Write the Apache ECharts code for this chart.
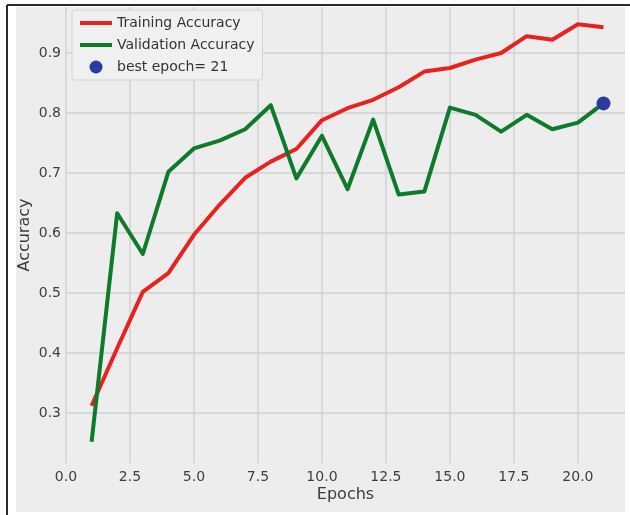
<!DOCTYPE html>
<html>
<head>
<meta charset="utf-8">
<script src="https://cdn.jsdelivr.net/npm/echarts@6/dist/echarts.min.js"></script>
<style>
  html, body { margin: 0; padding: 0; background: #ffffff; }
  #chart { width: 630px; height: 515px; }
</style>
</head>
<body>
<div id="chart"></div>
<script>
// Per-epoch accuracy recorded during training
const epochs = [1, 2, 3, 4, 5, 6, 7, 8, 9, 10, 11, 12, 13, 14, 15, 16, 17, 18, 19, 20, 21];
const trainingAccuracy = [0.312, 0.408, 0.502, 0.533, 0.597, 0.647, 0.692, 0.719, 0.740, 0.788, 0.808,
                          0.822, 0.843, 0.869, 0.875, 0.889, 0.900, 0.928, 0.922, 0.948, 0.943];
const validationAccuracy = [0.252, 0.633, 0.565, 0.702, 0.741, 0.754, 0.773, 0.813, 0.691, 0.762, 0.673,
                            0.789, 0.664, 0.669, 0.809, 0.797, 0.769, 0.797, 0.773, 0.784, 0.816];
const bestEpoch = 21;
const bestLabel = 'best epoch= ' + bestEpoch;

const pair = (xs, ys) => xs.map((x, i) => [x, ys[i]]);
const FONT = 'DejaVu Sans';

const chart = echarts.init(document.getElementById('chart'), null, { renderer: 'canvas' });

chart.setOption({
  backgroundColor: '#ffffff',
  animation: false,
  graphic: [
    // figure panel
    { type: 'rect', z: -10, silent: true, shape: { x: 16, y: 7, width: 609, height: 505 }, style: { fill: '#ededed' } },
    // outer frame lines
    { type: 'line', z: 10, silent: true, shape: { x1: 7, y1: 5, x2: 630, y2: 5 }, style: { stroke: '#2a2a2a', lineWidth: 2 } },
    { type: 'line', z: 10, silent: true, shape: { x1: 7, y1: 5, x2: 7, y2: 515 }, style: { stroke: '#2a2a2a', lineWidth: 2 } }
  ],
  grid: { left: 66, right: 5, top: 7, bottom: 52, show: true, backgroundColor: '#ededed', borderWidth: 0 },
  legend: {
    orient: 'vertical',
    left: 72,
    top: 10,
    padding: [6, 8, 6, 6],
    itemGap: 8,
    itemWidth: 32,
    itemHeight: 13,
    backgroundColor: '#f0f0f0',
    borderColor: '#d4d4d4',
    borderWidth: 1,
    borderRadius: 3,
    textStyle: { fontFamily: FONT, fontSize: 14, color: '#333333' },
    data: [
      // line entries show only the stroke, no marker
      { name: 'Training Accuracy', itemStyle: { opacity: 0 }, lineStyle: { width: 4, color: '#e8221e' } },
      { name: 'Validation Accuracy', itemStyle: { opacity: 0 }, lineStyle: { width: 4, color: '#0f7a2c' } },
      { name: bestLabel }
    ]
  },
  xAxis: {
    type: 'value',
    min: 0,
    max: 21.84,
    interval: 2.5,
    name: 'Epochs',
    nameLocation: 'middle',
    nameGap: 24,
    nameMoveOverlap: false,
    nameTextStyle: { fontFamily: FONT, fontSize: 16, color: '#3c3c3c' },
    axisLine: { show: false },
    axisTick: { show: false },
    axisLabel: {
      fontFamily: FONT, fontSize: 14, color: '#3e3e3e', margin: 7,
      showMaxLabel: false,
      formatter: v => v.toFixed(1)
    },
    splitLine: { show: true, showMaxLine: false, lineStyle: { color: '#d0d0d0', width: 1.5 } }
  },
  yAxis: {
    type: 'value',
    min: 0.21667,
    max: 0.97667,
    minInterval: 0.1,
    maxInterval: 0.1,
    splitNumber: 7,
    name: 'Accuracy',
    nameLocation: 'middle',
    nameGap: 33,
    nameMoveOverlap: false,
    nameTextStyle: { fontFamily: FONT, fontSize: 16, color: '#3c3c3c' },
    axisLine: { show: false },
    axisTick: { show: false },
    axisLabel: {
      fontFamily: FONT, fontSize: 14, color: '#3e3e3e', margin: 5,
      showMinLabel: false, showMaxLabel: false,
      formatter: v => v.toFixed(1)
    },
    splitLine: { show: true, showMinLine: false, showMaxLine: false, lineStyle: { color: '#d0d0d0', width: 1.5 } }
  },
  series: [
    {
      name: 'Training Accuracy',
      type: 'line',
      symbol: 'none',
      data: pair(epochs, trainingAccuracy),
      itemStyle: { color: '#e8221e' },
      lineStyle: { color: '#e8221e', width: 4, join: 'round' },
      z: 3
    },
    {
      name: 'Validation Accuracy',
      type: 'line',
      symbol: 'none',
      data: pair(epochs, validationAccuracy),
      itemStyle: { color: '#0f7a2c' },
      lineStyle: { color: '#0f7a2c', width: 4, join: 'round' },
      z: 4
    },
    {
      name: bestLabel,
      type: 'scatter',
      symbol: 'circle',
      symbolSize: 14,
      data: [[bestEpoch, validationAccuracy[epochs.indexOf(bestEpoch)]]],
      itemStyle: { color: '#2c3c9e', opacity: 1 },
      z: 5
    }
  ]
});
</script>
</body>
</html>
